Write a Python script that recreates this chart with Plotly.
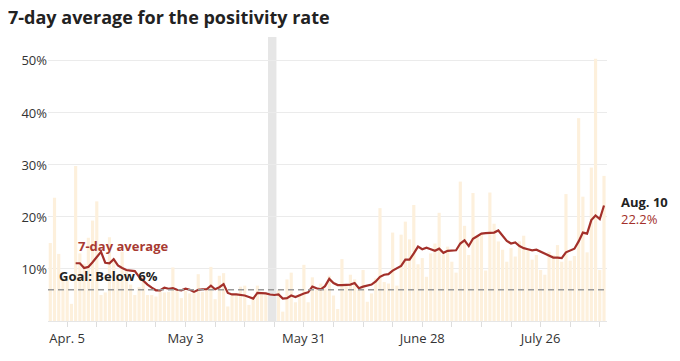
import pandas as pd
import plotly.graph_objects as go

# ---- data ----
dates = pd.date_range("2020-04-01", "2020-08-10", freq="D")

daily_rate = [
    15.0, 23.7, 12.9, 8.5, 8.0, 3.3, 29.8, 13.0, 11.0, 16.0,
    19.3, 23.0, 5.0, 5.5, 16.1, 12.0, 9.0, 13.3, 10.0, 7.0,
    5.0, 6.5, 8.7, 5.0, 5.0, 4.7, 6.0, 5.5, 5.6, 10.3,
    6.0, 4.4, 5.8, 5.3, 5.6, 9.0, 5.6, 6.4, 10.4, 4.2,
    8.7, 9.2, 2.8, 5.3, 5.3, 6.6, 6.8, 3.1, 4.7, 6.8,
    5.6, 5.2, None, None, 6.0, 1.8, 8.0, 9.3, 3.6, 5.2,
    10.8, 3.6, 8.4, 6.0, 7.2, 6.2, 8.7, 4.9, 2.3, 11.9,
    7.0, 8.9, 8.0, 6.0, 9.8, 3.7, 5.3, 8.2, 21.7, 7.5,
    7.2, 17.0, 6.8, 16.6, 19.1, 15.7, 22.3, 10.9, 12.1, 8.5,
    13.0, 14.9, 20.8, 12.8, 14.3, 11.4, 9.3, 26.8, 18.3, 12.7,
    24.6, 16.3, 16.8, 9.7, 24.7, 18.7, 15.3, 13.7, 11.4, 14.0,
    12.4, 15.3, 16.4, 13.7, 11.8, 12.7, 9.8, 8.9, 13.3, 12.7,
    14.6, 11.4, 24.4, 11.6, 12.5, 39.0, 23.9, 13.2, 29.5, 50.4,
    9.8, 27.9,
]

avg_rate = [
    None, None, None, None, None, None, 11.1, 11.1, 10.2, 10.4,
    11.3, 12.3, 13.3, 11.2, 11.1, 11.9, 10.7, 10.2, 9.8, 9.7,
    9.6, 8.5, 7.7, 7.0, 6.4, 5.9, 5.9, 6.4, 6.2, 6.3,
    6.0, 5.9, 6.2, 6.0, 5.6, 6.0, 6.1, 6.1, 6.8, 6.1,
    6.5, 7.1, 5.4, 5.1, 5.1, 5.0, 4.9, 4.6, 4.3, 5.4,
    5.4, 5.3, 5.1, 5.0, 5.1, 4.3, 4.4, 4.9, 4.6, 5.0,
    5.3, 5.5, 6.6, 6.3, 6.1, 6.7, 8.1, 7.3, 6.9, 6.9,
    7.0, 7.0, 7.3, 6.3, 6.6, 6.8, 7.0, 7.6, 8.5, 8.9,
    9.0, 9.7, 10.1, 10.6, 11.8, 11.8, 13.0, 14.3, 13.8, 14.1,
    13.8, 13.5, 13.9, 13.1, 13.5, 13.5, 13.6, 14.9, 15.5, 14.4,
    15.8, 16.3, 16.8, 16.9, 16.9, 17.0, 17.4, 16.3, 15.4, 14.9,
    15.1, 14.4, 14.0, 13.8, 13.6, 13.7, 13.3, 13.0, 12.6, 12.2,
    12.2, 12.1, 13.2, 13.6, 13.9, 15.3, 17.0, 16.8, 19.4, 20.3,
    19.6, 22.2,
]

goal_rate = 6
label_dates = ["2020-04-05", "2020-05-03", "2020-05-31", "2020-06-28", "2020-07-26"]
label_text = ["Apr. 5", "May 3", "May 31", "June 28", "July 26"]
week_ticks = pd.date_range("2020-04-05", "2020-08-09", freq="7D")
gap_start, gap_end = "2020-05-22 12:00", "2020-05-24 12:00"
y_ticks = [10, 20, 30, 40, 50]
y_ticktext = ["10%", "20%", "30%", "40%", "50%"]

# ---- figure ----
FONT = "Open Sans"
RED = "#a3302a"
W, H = 672, 353          # page body has an 8px margin
L, T, R, B = 40, 29, 73, 40
PW, PH = W - L - R, H - T - B

def px(xp):   # page x -> paper x
    return (xp - 8 - L) / PW

def py(yp):   # page y -> paper y
    return 1 - (yp - 8 - T) / PH

tickvals = list(week_ticks)
ticktext = []
for d in week_ticks:
    s = d.strftime("%Y-%m-%d")
    ticktext.append(label_text[label_dates.index(s)] if s in label_dates else "")

fig = go.Figure()
fig.add_trace(go.Bar(x=dates, y=daily_rate, marker=dict(color="#fdf0dc", line=dict(width=0)),
                     hoverinfo="skip"))
fig.add_trace(go.Scatter(x=dates, y=avg_rate, mode="lines",
                         line=dict(color=RED, width=2.2), hoverinfo="skip"))

fig.add_shape(type="rect", xref="x", yref="paper", x0=gap_start, x1=gap_end, y0=0, y1=1,
              fillcolor="#e6e6e6", line=dict(width=0), layer="below")
fig.add_shape(type="line", xref="paper", yref="y", x0=0, x1=1, y0=goal_rate, y1=goal_rate,
              line=dict(color="#9a9a9a", width=1.5, dash="6px,4px"), layer="above")

fig.update_layout(
    width=W, height=H,
    margin=dict(l=L, r=R, t=T, b=B, autoexpand=False),
    paper_bgcolor="white", plot_bgcolor="white",
    showlegend=False, bargap=0.25,
    font=dict(family=FONT, size=13, color="#333"),
    title=dict(text="<b>7-day average for the positivity rate</b>",
               font=dict(family=FONT, size=18, color="#222"),
               x=0, xanchor="left", xref="container",
               y=1 - 9.5 / H, yanchor="middle", yref="container"),
    xaxis=dict(type="date", range=["2020-03-31 11:00", "2020-08-10 17:00"],
               tickmode="array", tickvals=tickvals, ticktext=ticktext,
               ticks="outside", ticklen=5, tickcolor="#dddddd", tickwidth=1,
               showgrid=False, showline=True, linecolor="#e6e6e6", linewidth=1,
               tickfont=dict(size=13, color="#333"), zeroline=False, automargin=False),
    yaxis=dict(range=[0, 54.6], tickmode="array", tickvals=y_ticks, ticktext=y_ticktext,
               showgrid=True, gridcolor="#ebebeb", gridwidth=1, zeroline=False,
               ticks="", showline=False, tickfont=dict(size=13, color="#333"),
               automargin=False),
    annotations=[
        dict(text="<b>7-day average</b>", xref="paper", yref="paper",
             x=px(76), y=py(245.5), xanchor="left", yanchor="middle",
             showarrow=False, font=dict(family=FONT, size=13, color="#a83a32")),
        dict(text="<b>Goal: Below 6%</b>", xref="paper", yref="paper",
             x=px(57), y=py(276), xanchor="left", yanchor="middle",
             showarrow=False, font=dict(family=FONT, size=13, color="#222")),
        dict(text="<b>Aug. 10</b>", xref="paper", yref="paper",
             x=px(619), y=py(201.5), xanchor="left", yanchor="middle",
             showarrow=False, font=dict(family=FONT, size=13, color="#222")),
        dict(text="22.2%", xref="paper", yref="paper",
             x=px(619), y=py(218.5), xanchor="left", yanchor="middle",
             showarrow=False, font=dict(family=FONT, size=13, color=RED)),
    ],
)

fig.write_html("out.html")
